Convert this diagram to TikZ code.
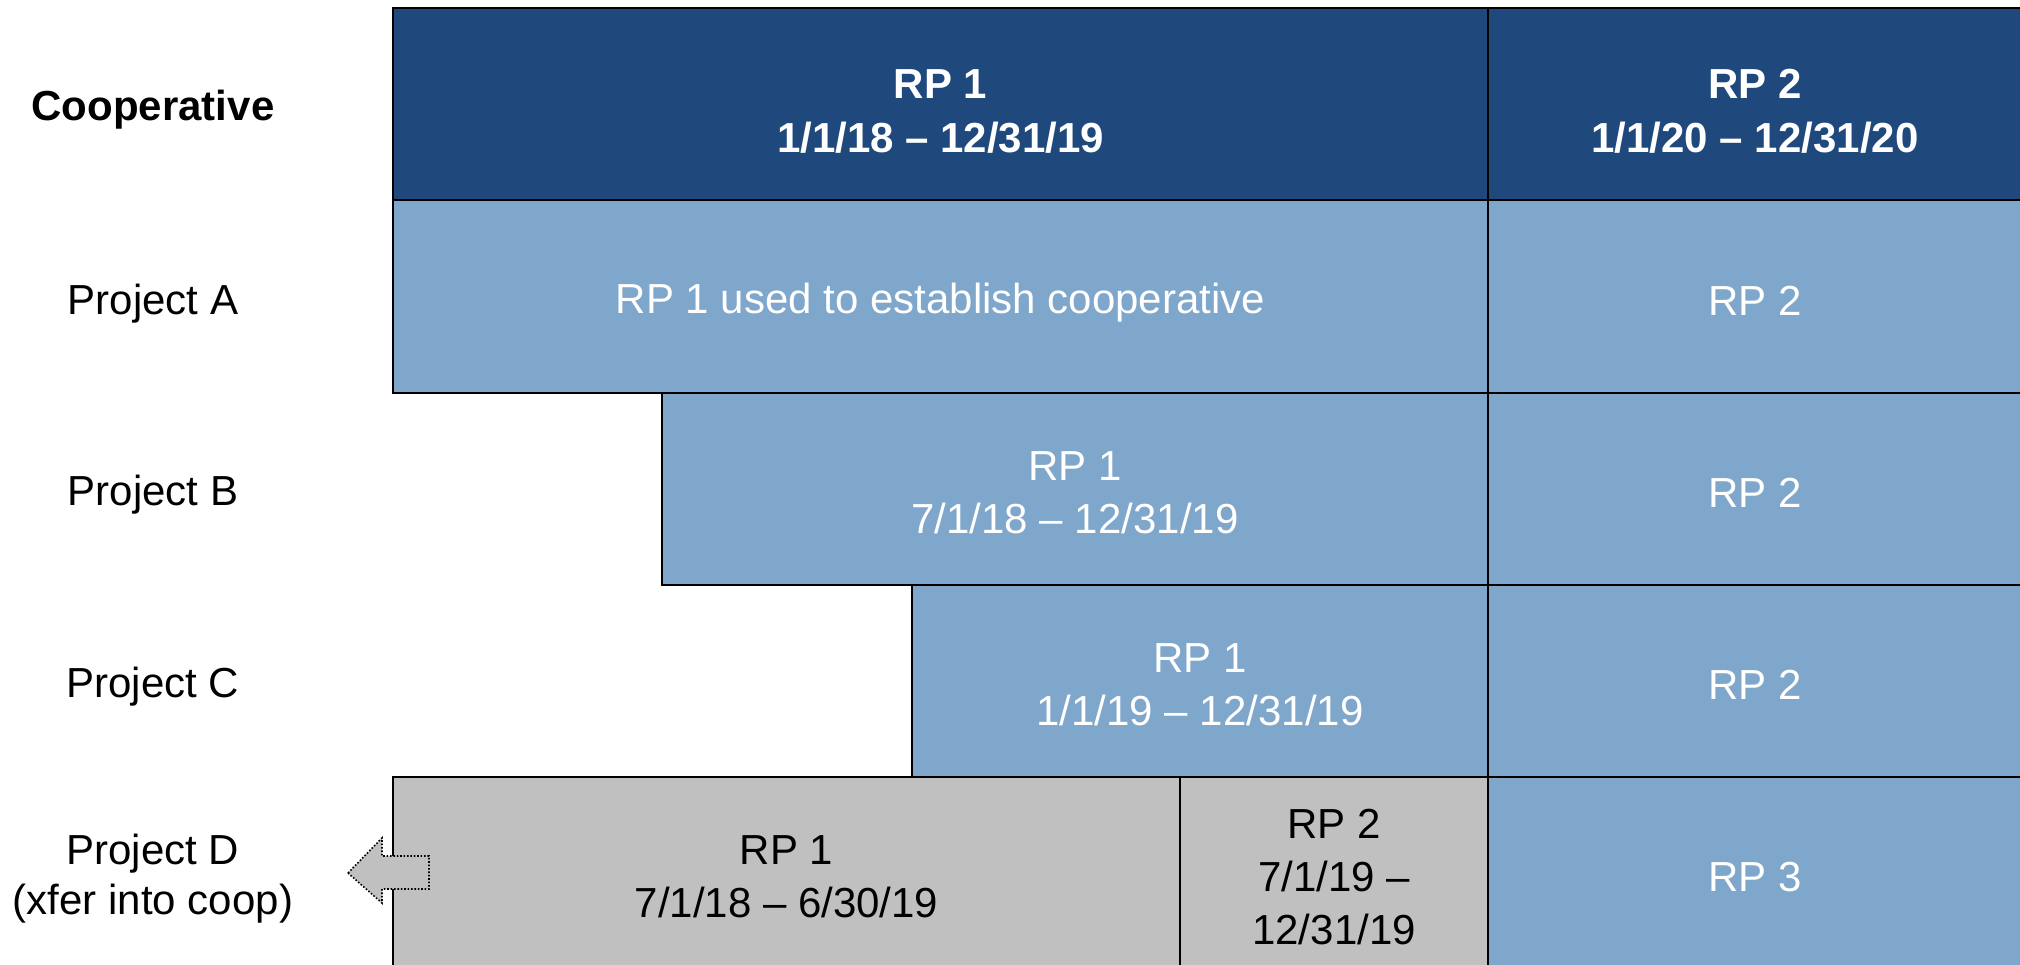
\documentclass[tikz,border=0pt]{standalone}
\usepackage{fontspec}
\setmainfont{Liberation Sans}
\definecolor{hdrblue}{RGB}{31,73,125}
\definecolor{lightblue}{RGB}{127,166,203}
\definecolor{graycell}{RGB}{192,192,192}
\begin{document}
\begin{tikzpicture}[x=1pt,y=-1pt,
  cell/.style={draw=black, line width=2.6pt, inner sep=0pt},
  celltext/.style={align=center, inner sep=0pt, yshift=-4pt, font=\fontsize{42}{53}\selectfont},
  hcell/.style={cell, fill=hdrblue},
  htext/.style={celltext, text=white, yshift=-3pt, font=\bfseries\fontsize{42}{54}\selectfont},
  bcell/.style={cell, fill=lightblue},
  btext/.style={celltext, text=white},
  gcellbox/.style={cell, fill=graycell},
  gtext/.style={celltext, text=black},
  rowlabel/.style={align=center, inner sep=0pt, font=\fontsize{42}{50}\selectfont},
  xferarrow/.style={draw=black, fill=graycell, line width=1.6pt, dash pattern=on 1.6pt off 1.8pt}
]
\useasboundingbox (0,0) rectangle (2020,964);
\clip (0,0) rectangle (2020,964);

% header
\node[hcell, minimum width=1095pt, minimum height=192pt,
  label={[htext]center:RP 1\\1/1/18 -- 12/31/19}] (h1) at (940.5,104) {};
\node[hcell, minimum width=534pt, minimum height=192pt,
  label={[htext]center:RP 2\\1/1/20 -- 12/31/20}] (h2) at (1755,104) {};

% project A
\node[bcell, minimum width=1095pt, minimum height=193pt,
  label={[btext, yshift=-2pt]center:RP 1 used to establish cooperative}] (a1) at (940.5,296.5) {};
\node[bcell, minimum width=534pt, minimum height=193pt,
  label={[btext]center:RP 2}] (a2) at (1755,296.5) {};

% project B
\node[bcell, minimum width=826pt, minimum height=192pt,
  label={[btext]center:RP 1\\7/1/18 -- 12/31/19}] (b1) at (1075,489) {};
\node[bcell, minimum width=534pt, minimum height=192pt,
  label={[btext]center:RP 2}] (b2) at (1755,489) {};

% project C
\node[bcell, minimum width=576pt, minimum height=192pt,
  label={[btext]center:RP 1\\1/1/19 -- 12/31/19}] (c1) at (1200,681) {};
\node[bcell, minimum width=534pt, minimum height=192pt,
  label={[btext]center:RP 2}] (c2) at (1755,681) {};

% project D
\node[gcellbox, minimum width=787pt, minimum height=192pt,
  label={[gtext]center:RP 1\\7/1/18 -- 6/30/19}] (d1) at (786.5,873) {};
\node[gcellbox, minimum width=308pt, minimum height=192pt,
  label={[gtext]center:RP 2\\7/1/19 --\\12/31/19}] (d2) at (1334,873) {};
\node[bcell, minimum width=534pt, minimum height=192pt,
  label={[btext]center:RP 3}] (d3) at (1755,873) {};

% row labels
\node[rowlabel, font=\bfseries\fontsize{42}{50}\selectfont] (lcoop) at (153,110) {Cooperative};
\node[rowlabel] (la) at (153,304) {Project A};
\node[rowlabel] (lb) at (153,495) {Project B};
\node[rowlabel] (lc) at (153,687) {Project C};
\node[rowlabel] (ld) at (153,879) {Project D\\(xfer into coop)};

% transfer arrow
\draw[xferarrow] (348,873) -- (382,838) -- (382,856) -- (429,856) -- (429,889)
  -- (382,889) -- (382,903) -- cycle;
\end{tikzpicture}
\end{document}
